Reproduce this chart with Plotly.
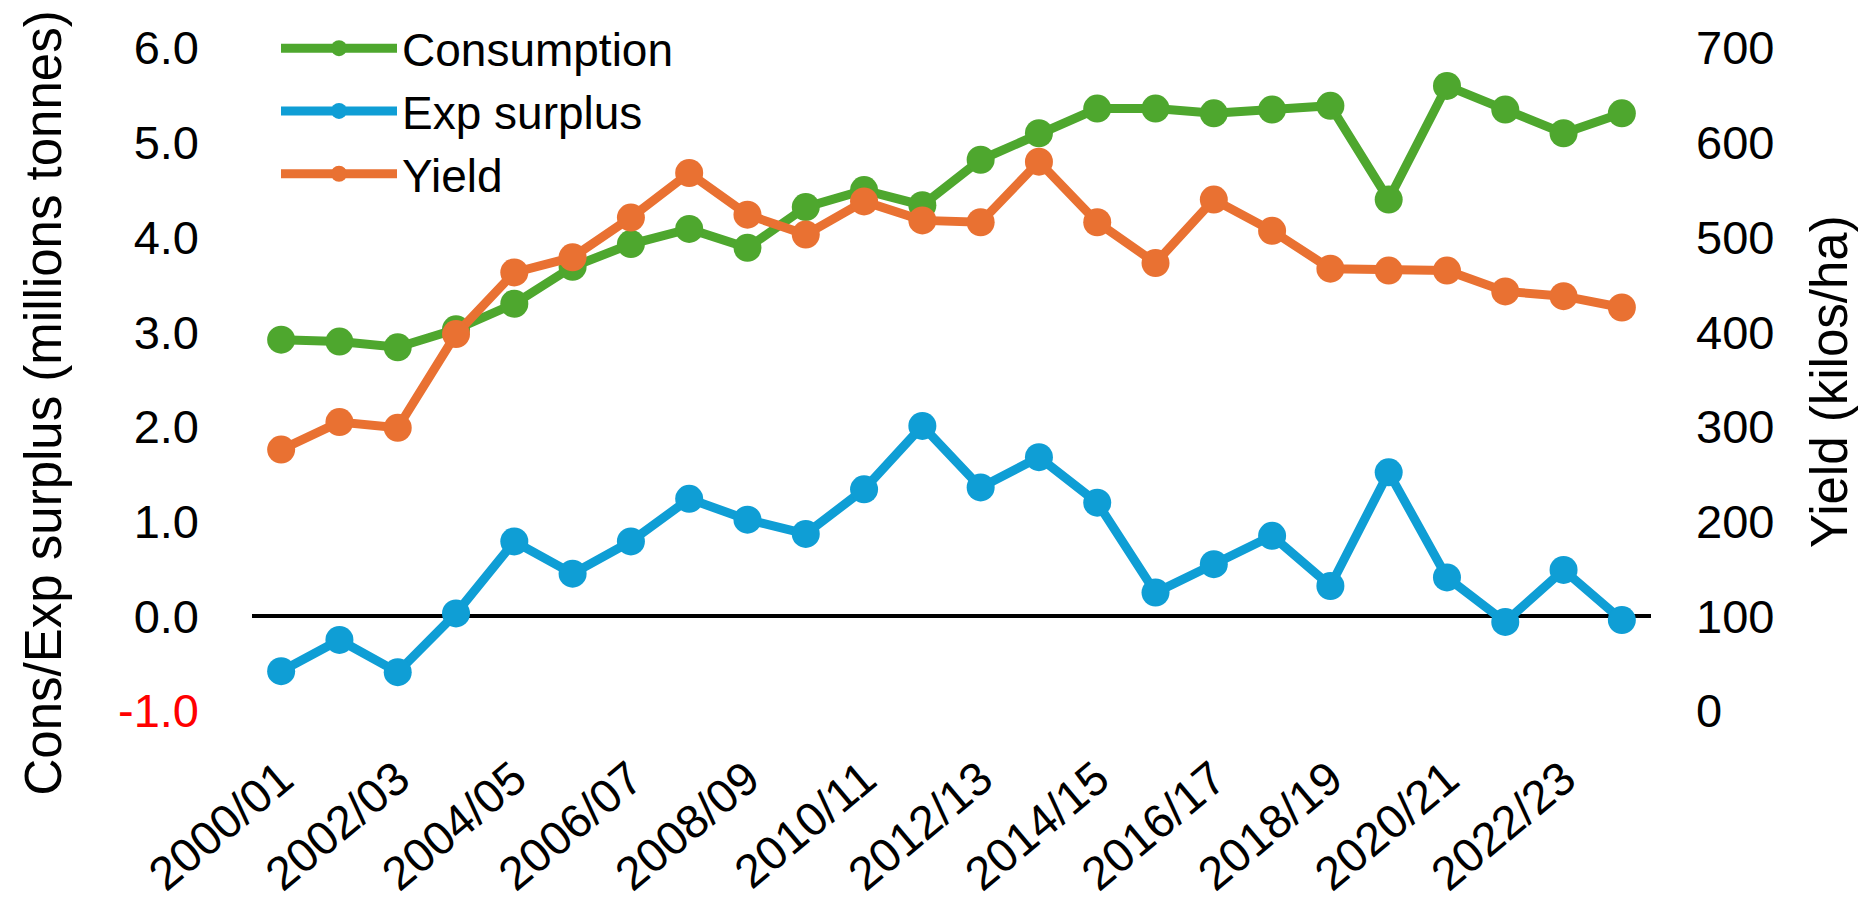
import plotly.graph_objects as go

categories = ["2000/01", "2001/02", "2002/03", "2003/04", "2004/05", "2005/06",
              "2006/07", "2007/08", "2008/09", "2009/10", "2010/11", "2011/12",
              "2012/13", "2013/14", "2014/15", "2015/16", "2016/17", "2017/18",
              "2018/19", "2019/20", "2020/21", "2021/22", "2022/23", "2023/24"]

consumption = [2.92, 2.90, 2.84, 3.03, 3.30, 3.69, 3.93, 4.09, 3.89, 4.32, 4.50, 4.34,
               4.82, 5.10, 5.36, 5.36, 5.31, 5.35, 5.39, 4.40, 5.60, 5.35, 5.10, 5.31]

exp_surplus = [-0.58, -0.25, -0.59, 0.03, 0.79, 0.45, 0.79, 1.24, 1.02, 0.87, 1.34, 2.01,
               1.36, 1.68, 1.20, 0.25, 0.55, 0.85, 0.32, 1.52, 0.41, -0.06, 0.49, -0.04]

yield_kg_ha = [276, 305, 299, 398, 463, 479, 521, 568, 524, 503, 538, 518,
               516, 580, 516, 473, 540, 507, 467, 465, 465, 443, 438, 426]

left_ticks = [-1, 0, 1, 2, 3, 4, 5, 6]
left_ticktext = ['<span style="color:#FF0000">-1.0</span>', "0.0", "1.0", "2.0",
                 "3.0", "4.0", "5.0", "6.0"]
right_ticks = [0, 100, 200, 300, 400, 500, 600, 700]
x_tick_labels = categories[::2]

GREEN = "#4EA72E"
BLUE = "#0F9ED5"
ORANGE = "#E97132"

FONT = "Liberation Sans, Arial, sans-serif"
TICK_FONT = dict(family=FONT, size=47, color="#000000")

fig = go.Figure()

for name, vals, col, ax in [("Consumption", consumption, GREEN, "y"),
                            ("Exp surplus", exp_surplus, BLUE, "y"),
                            ("Yield", yield_kg_ha, ORANGE, "y2")]:
    fig.add_trace(go.Scatter(x=categories, y=vals, name=name, yaxis=ax,
                             mode="lines+markers",
                             line=dict(color=col, width=9),
                             marker=dict(color=col, size=28)))

L, R, T, B = 252, 209, 42, 193
W, H = 1860, 912
pw, ph = W - L - R, H - T - B


def px_x(x):
    return (x - L) / pw


def px_y(y):
    return (H - B - y) / ph


fig.update_layout(
    width=W, height=H,
    margin=dict(l=L, r=R, t=T, b=B, pad=0),
    paper_bgcolor="white", plot_bgcolor="white",
    showlegend=True,
    legend=dict(x=px_x(276), y=px_y(5), xanchor="left", yanchor="top",
                font=dict(family=FONT, size=46, color="#000000"),
                bgcolor="rgba(0,0,0,0)", itemwidth=116, tracegroupgap=0),
    xaxis=dict(type="category", categoryorder="array", categoryarray=categories,
               range=[-0.5, len(categories) - 0.5],
               tickmode="array", tickvals=x_tick_labels, ticktext=x_tick_labels,
               tickangle=-40, tickfont=dict(family=FONT, size=47, color="#000000"),
               showgrid=False, showline=False,
               ticks="", zeroline=False, ticklabelstandoff=30),
    yaxis=dict(range=[-1, 6], tickmode="array", tickvals=left_ticks,
               ticktext=left_ticktext, tickfont=TICK_FONT, showgrid=False,
               showline=False, ticks="", zeroline=True, zerolinecolor="#000000",
               zerolinewidth=4, ticklabelstandoff=52),
    yaxis2=dict(range=[0, 700], overlaying="y", side="right", tickmode="array",
                tickvals=right_ticks, ticktext=[str(v) for v in right_ticks],
                tickfont=TICK_FONT, showgrid=False, showline=False, ticks="",
                zeroline=False, ticklabelstandoff=44),
)

fig.add_annotation(text="Cons/Exp surplus (millions tonnes)", textangle=-90,
                   xref="paper", yref="paper", x=px_x(43), y=px_y(405),
                   xanchor="center", yanchor="middle", showarrow=False,
                   font=dict(family=FONT, size=51, color="#000000"))
fig.add_annotation(text="Yield (kilos/ha)", textangle=-90,
                   xref="paper", yref="paper", x=px_x(1830), y=px_y(383),
                   xanchor="center", yanchor="middle", showarrow=False,
                   font=dict(family=FONT, size=51, color="#000000"))

fig.write_html("out.html", config={"displayModeBar": False},
               post_script="document.body.style.margin='0';document.body.style.overflow='hidden';")
